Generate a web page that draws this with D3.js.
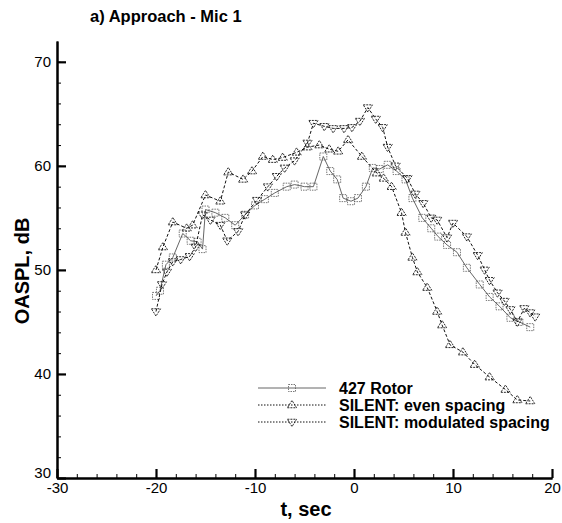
<!DOCTYPE html>
<html>
<head>
<meta charset="utf-8">
<script src="https://cdn.jsdelivr.net/npm/d3@7"></script>
<style>
  body { margin: 0; background: #fff; }
  svg { font-family: "Liberation Sans", Arial, Helvetica, sans-serif; }
</style>
</head>
<body>
<div id="chart"></div>
<script>
// data
const rotorT  = [-20, -19.6, -19, -18.3, -17.3, -16.5, -15.8, -15.3, -15, -14, -13, -12, -11, -10, -9, -8, -6.8, -6, -5, -4.1, -3.1, -2.4, -1.7, -1.1, -0.3, 0.4, 1.2, 1.9, 2.6, 3.4, 4.3, 5.2, 5.9, 6.9, 7.8, 8.5, 9.4, 10.4, 11.4, 12.7, 13.7, 14.7, 15.8, 16.7, 17.8];
const rotorDb = [47.5, 48.0, 50.5, 51.2, 53.5, 52.8, 52.7, 52.0, 55.8, 55.5, 55.0, 54.3, 55.3, 56.2, 56.8, 57.4, 58.0, 58.2, 58.0, 58.0, 60.9, 59.5, 58.7, 56.9, 56.6, 56.9, 58.0, 59.8, 59.7, 60.1, 59.5, 58.7, 56.9, 55.0, 54.0, 53.2, 52.4, 51.7, 50.2, 48.6, 47.4, 46.5, 45.4, 45.0, 44.5];

const evenT  = [-20, -19.3, -18.3, -16.9, -16.3, -15, -13.5, -12.7, -11.2, -10.3, -9.2, -8.2, -7.2, -5.8, -4.7, -3.5, -2.5, -1.6, -0.6, 0.8, 2.3, 3.0, 3.8, 4.8, 5.2, 5.9, 6.4, 7.4, 8.4, 8.9, 9.7, 11.0, 12.2, 13.7, 15.3, 16.5, 17.8];
const evenDb = [50.0, 52.2, 54.6, 54.0, 54.3, 57.2, 56.6, 59.4, 58.7, 59.5, 60.9, 60.6, 60.8, 61.3, 61.8, 62.0, 61.6, 61.4, 62.5, 60.9, 59.3, 58.8, 58.0, 55.5, 53.6, 51.2, 49.8, 48.3, 46.0, 44.7, 42.8, 42.1, 40.9, 39.7, 38.5, 37.5, 37.4];

const modT  = [-20, -19.4, -18.9, -18.3, -17.5, -16.6, -16, -15.3, -14.5, -13.5, -12.8, -11.7, -11, -9.8, -8.7, -7.8, -7, -6, -4.7, -4.1, -3, -2.1, -1, -0.2, 0.6, 1.4, 2.2, 2.9, 3.4, 4.2, 5.4, 6.2, 7.0, 7.8, 8.4, 9.4, 10.0, 11.4, 12.5, 13.2, 13.7, 14.5, 15.2, 15.8, 16.5, 17.2, 17.8, 18.3];
const modDb = [46.0, 48.6, 49.8, 50.8, 51.0, 51.3, 52.2, 55.3, 54.8, 54.3, 52.8, 53.7, 55.3, 56.7, 58.0, 59.0, 59.8, 60.5, 62.2, 64.1, 63.8, 63.6, 63.6, 63.7, 64.3, 65.6, 64.5, 63.7, 61.8, 60.0, 58.8, 57.3, 56.4, 55.0, 54.8, 53.1, 54.5, 53.2, 51.4, 50.0, 49.0, 47.8, 47.0, 46.2, 45.0, 46.3, 45.9, 45.5];

const xTicks = [-30, -20, -10, 0, 10, 20];
const yTicks = [30, 40, 50, 60, 70];
const seriesNames = ["427 Rotor", "SILENT: even spacing", "SILENT: modulated spacing"];

const W = 562, H = 523;
const svg = d3.select("#chart").append("svg").attr("width", W).attr("height", H);

const x = d3.scaleLinear().domain([-30, 20]).range([57, 552]);
const y = d3.scaleLinear().domain([30, 72]).range([478, 41]);

// axes, ticks pointing inward
const gx = svg.append("g").attr("transform", "translate(0,478)");
gx.call(d3.axisBottom(x).tickValues(d3.range(-30, 21, 2)).tickSize(-4).tickSizeOuter(0).tickFormat(""));
gx.call(g => g.selectAll(".tick line").attr("stroke-width", 1));
const gx2 = svg.append("g").attr("transform", "translate(0,478)");
gx2.call(d3.axisBottom(x).tickValues(xTicks).tickSize(-9).tickSizeOuter(0).tickPadding(4).tickFormat(d => String(d)));

const gy = svg.append("g").attr("transform", "translate(57,0)");
gy.call(d3.axisLeft(y).tickValues(d3.range(30, 71, 2)).tickSize(-4).tickSizeOuter(0).tickFormat(""));
const gy2 = svg.append("g").attr("transform", "translate(57,0)");
gy2.call(d3.axisLeft(y).tickValues(yTicks).tickSize(-9).tickSizeOuter(0).tickPadding(6).tickFormat(d => String(d)));

svg.selectAll(".domain").attr("stroke", "#000").attr("stroke-width", 2);
gx2.selectAll(".tick line").attr("stroke-width", 2.2);
gy2.selectAll(".tick line").attr("stroke-width", 2.2);
svg.selectAll(".tick text").attr("font-size", 15).attr("fill", "#000")
  .attr("font-family", "'Liberation Sans', Arial, sans-serif");
// the "30" label sits a bit above the corner in the reference
gy2.selectAll(".tick").filter(d => d === 30).select("text").attr("dy", "-0.05em");

// titles
svg.append("text").attr("x", 90).attr("y", 22).attr("font-size", 16.5).attr("font-weight", "bold")
  .text("a) Approach - Mic 1");
svg.append("text").attr("transform", "translate(29,271) rotate(-90)").attr("text-anchor", "middle")
  .attr("font-size", 20).attr("font-weight", "bold").text("OASPL, dB");
svg.append("text").attr("x", 306).attr("y", 516).attr("text-anchor", "middle")
  .attr("font-size", 20).attr("font-weight", "bold").text("t, sec");

// series
const line = d3.line().x(d => x(d[0])).y(d => y(d[1]));
const rotor = d3.zip(rotorT, rotorDb);
const even = d3.zip(evenT, evenDb);
const mod = d3.zip(modT, modDb);

function triDown(px, py) {
  const s = 4.6;
  return `M${px - s},${py - s * 0.6}L${px + s},${py - s * 0.6}L${px},${py + s * 1.0}Z`;
}
function triUp(px, py) {
  const s = 4.6;
  return `M${px - s},${py + s * 0.6}L${px + s},${py + s * 0.6}L${px},${py - s * 1.0}Z`;
}

const specs = [
  { data: rotor, stroke: "#555", width: 0.9, dash: null, marker: "square" },
  { data: even, stroke: "#111", width: 1, dash: "3,2", marker: "up" },
  { data: mod, stroke: "#111", width: 1, dash: "3,2", marker: "down" }
];

function drawMarker(g, kind, px, py, color) {
  if (kind === "square") {
    g.append("rect").attr("x", px - 3.5).attr("y", py - 3.5).attr("width", 7).attr("height", 7)
      .attr("fill", "none").attr("stroke", color).attr("stroke-width", 0.8).attr("stroke-dasharray", "1.5,1");
  } else {
    g.append("path").attr("d", kind === "up" ? triUp(px, py) : triDown(px, py))
      .attr("fill", "none").attr("stroke", color).attr("stroke-width", 0.9).attr("stroke-dasharray", "2,1");
  }
}

specs.forEach(s => {
  const g = svg.append("g");
  g.append("path").datum(s.data).attr("d", line).attr("fill", "none")
    .attr("stroke", s.stroke).attr("stroke-width", s.width)
    .attr("stroke-dasharray", s.dash);
  s.data.forEach(d => drawMarker(g, s.marker, x(d[0]), y(d[1]), s.stroke));
});

// legend
const legY = [388, 405, 422];
specs.forEach((s, i) => {
  const g = svg.append("g");
  g.append("line").attr("x1", 258).attr("x2", 326).attr("y1", legY[i]).attr("y2", legY[i])
    .attr("stroke", s.stroke).attr("stroke-width", s.width)
    .attr("stroke-dasharray", i === 0 ? null : "1.5,1.5");
  drawMarker(g, s.marker, 292, legY[i], s.stroke);
  g.append("text").attr("x", 339).attr("y", legY[i] + 6).attr("font-size", 16).attr("font-weight", "bold")
    .text(seriesNames[i]);
});
</script>
</body>
</html>
